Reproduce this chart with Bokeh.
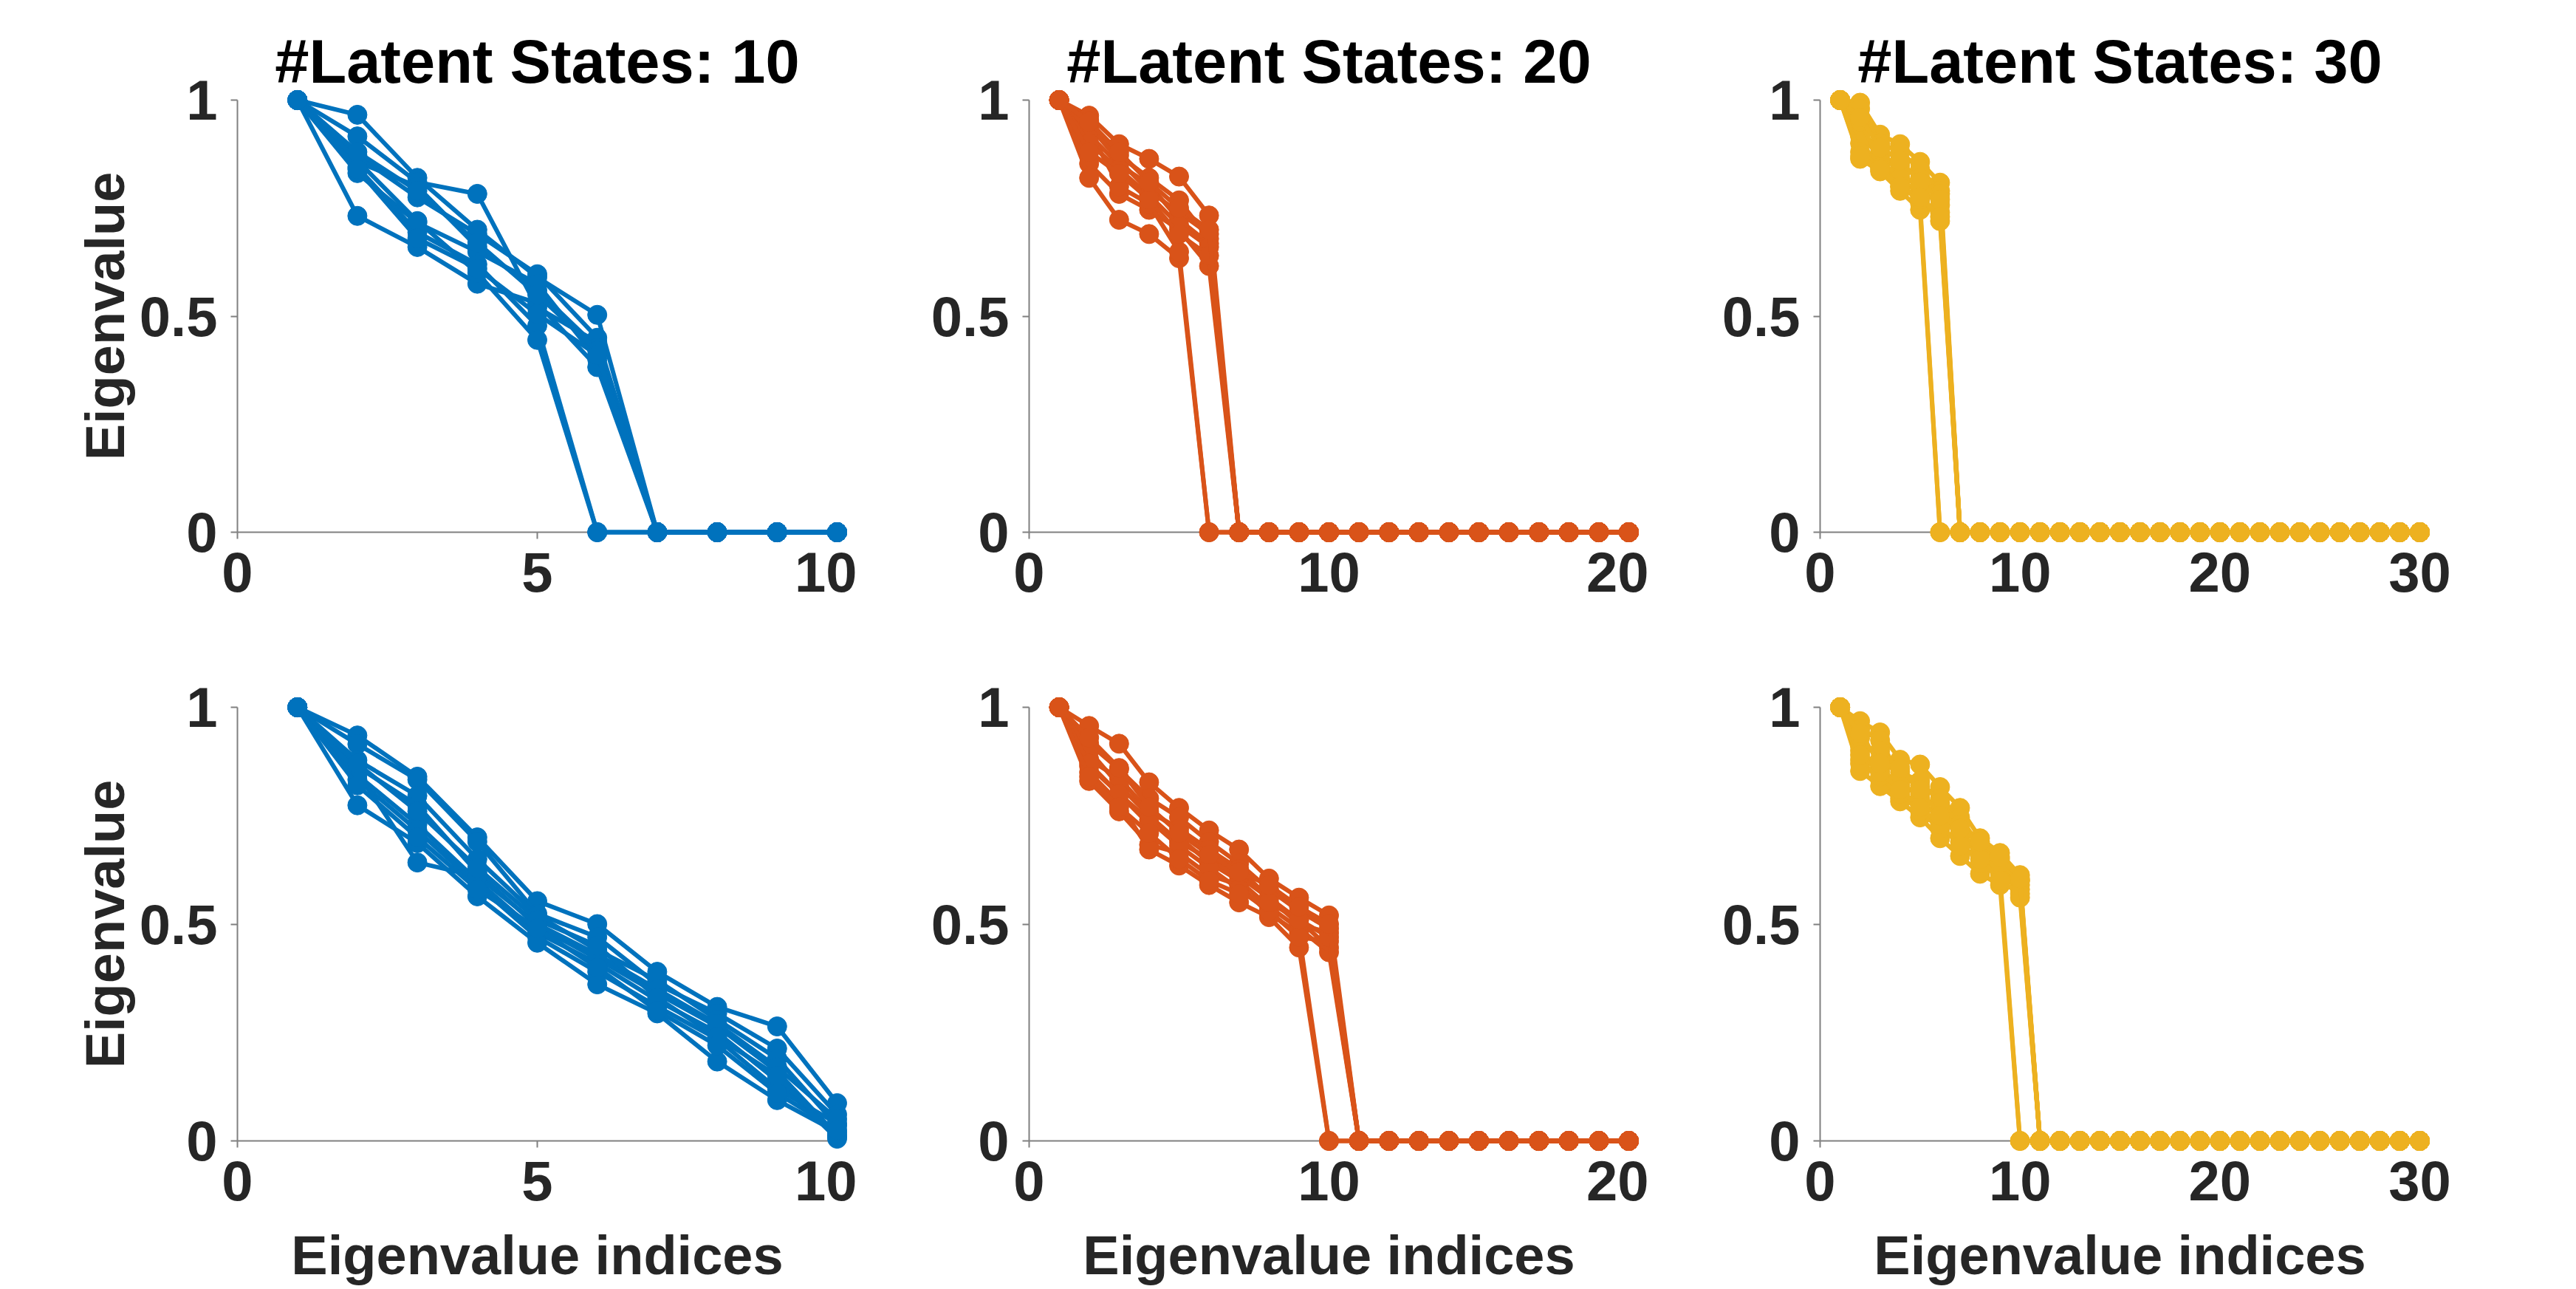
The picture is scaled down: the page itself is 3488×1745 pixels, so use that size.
from bokeh.plotting import figure
from bokeh.layouts import row, column
from bokeh.models import Range1d, FixedTicker
from bokeh.embed import file_html
from bokeh.resources import INLINE

# ---------------- data ----------------
titles = ["#Latent States: 10", "#Latent States: 20", "#Latent States: 30"]
n_states = [10, 20, 30]
x_ticks = [[0, 5, 10], [0, 10, 20], [0, 10, 20, 30]]
y_ticks = [0, 0.5, 1]
colors = ["#0072BD", "#D95319", "#EDB120"]

# leading (non-zero) eigenvalues per run; remaining eigenvalues are 0
top_10 = [
    [1, 0.966, 0.820, 0.700, 0.590, 0.503, 0],
    [1, 0.916, 0.810, 0.783, 0.520, 0.440, 0],
    [1, 0.872, 0.775, 0.690, 0.597, 0.450, 0],
    [1, 0.857, 0.800, 0.660, 0.560, 0.427, 0],
    [1, 0.831, 0.716, 0.649, 0.575, 0.400, 0],
    [1, 0.732, 0.660, 0.575, 0.530, 0.382, 0],
    [1, 0.845, 0.694, 0.620, 0.478, 0],
    [1, 0.860, 0.720, 0.600, 0.445, 0],
    [1, 0.880, 0.790, 0.670, 0.550, 0.420, 0],
    [1, 0.840, 0.680, 0.610, 0.505, 0.410, 0],
]
top_20 = [
    [1, 0.964, 0.898, 0.864, 0.823, 0.733, 0],
    [1, 0.953, 0.872, 0.820, 0.768, 0.679, 0],
    [1, 0.920, 0.850, 0.805, 0.723, 0.668, 0],
    [1, 0.940, 0.860, 0.790, 0.740, 0.690, 0],
    [1, 0.853, 0.783, 0.746, 0.700, 0.616, 0],
    [1, 0.820, 0.723, 0.690, 0.634, 0],
    [1, 0.930, 0.800, 0.760, 0.649, 0],
    [1, 0.900, 0.840, 0.780, 0.710, 0.660, 0],
    [1, 0.880, 0.830, 0.770, 0.690, 0.640, 0],
    [1, 0.950, 0.880, 0.810, 0.750, 0.700, 0],
]
top_30 = [
    [1, 0.994, 0.920, 0.898, 0.857, 0.809, 0],
    [1, 0.980, 0.900, 0.880, 0.840, 0.790, 0],
    [1, 0.916, 0.872, 0.850, 0.820, 0.783, 0],
    [1, 0.930, 0.880, 0.830, 0.797, 0.757, 0],
    [1, 0.864, 0.835, 0.790, 0.746, 0],
    [1, 0.900, 0.850, 0.810, 0.760, 0],
    [1, 0.950, 0.860, 0.820, 0.780, 0.720, 0],
    [1, 0.880, 0.845, 0.800, 0.770, 0.740, 0],
    [1, 0.960, 0.890, 0.860, 0.810, 0.770, 0],
    [1, 0.870, 0.840, 0.800, 0.775, 0.730, 0],
]
bottom_10 = [
    [1, 0.935, 0.840, 0.700, 0.553, 0.500, 0.390, 0.309, 0.264, 0.087],
    [1, 0.915, 0.833, 0.690, 0.524, 0.470, 0.361, 0.294, 0.213, 0.061],
    [1, 0.878, 0.796, 0.650, 0.520, 0.440, 0.370, 0.280, 0.190, 0.035],
    [1, 0.863, 0.774, 0.619, 0.495, 0.420, 0.340, 0.264, 0.160, 0.013],
    [1, 0.844, 0.730, 0.600, 0.480, 0.410, 0.324, 0.250, 0.139, 0.005],
    [1, 0.833, 0.716, 0.590, 0.470, 0.390, 0.310, 0.235, 0.120, 0.040],
    [1, 0.774, 0.687, 0.564, 0.457, 0.361, 0.294, 0.183, 0.094, 0.020],
    [1, 0.850, 0.642, 0.610, 0.500, 0.430, 0.350, 0.270, 0.170, 0.050],
    [1, 0.870, 0.760, 0.630, 0.510, 0.450, 0.330, 0.240, 0.150, 0.010],
    [1, 0.820, 0.700, 0.580, 0.490, 0.400, 0.300, 0.220, 0.110, 0.025],
]
bottom_20 = [
    [1, 0.957, 0.916, 0.827, 0.768, 0.716, 0.672, 0.605, 0.561, 0.520, 0],
    [1, 0.916, 0.857, 0.790, 0.746, 0.690, 0.640, 0.580, 0.530, 0.490, 0],
    [1, 0.880, 0.836, 0.760, 0.720, 0.672, 0.627, 0.561, 0.509, 0.446, 0],
    [1, 0.864, 0.800, 0.730, 0.700, 0.642, 0.600, 0.540, 0.490, 0.435, 0],
    [1, 0.830, 0.760, 0.683, 0.664, 0.613, 0.590, 0.524, 0.479, 0],
    [1, 0.850, 0.780, 0.672, 0.635, 0.590, 0.550, 0.516, 0.446, 0],
    [1, 0.900, 0.820, 0.750, 0.690, 0.650, 0.610, 0.560, 0.500, 0.480, 0],
    [1, 0.870, 0.800, 0.740, 0.680, 0.630, 0.580, 0.530, 0.470, 0.460, 0],
    [1, 0.840, 0.770, 0.710, 0.650, 0.600, 0.570, 0.550, 0.510, 0.470, 0],
    [1, 0.930, 0.860, 0.770, 0.710, 0.660, 0.620, 0.590, 0.540, 0.500, 0],
]
bottom_30 = [
    [1, 0.968, 0.942, 0.879, 0.868, 0.816, 0.768, 0.698, 0.664, 0.613, 0],
    [1, 0.950, 0.924, 0.840, 0.820, 0.790, 0.746, 0.680, 0.650, 0.600, 0],
    [1, 0.879, 0.833, 0.790, 0.780, 0.776, 0.720, 0.657, 0.630, 0.590, 0],
    [1, 0.853, 0.818, 0.783, 0.746, 0.698, 0.657, 0.616, 0.590, 0],
    [1, 0.900, 0.860, 0.820, 0.800, 0.760, 0.700, 0.660, 0.610, 0],
    [1, 0.930, 0.880, 0.850, 0.830, 0.780, 0.730, 0.680, 0.640, 0.561, 0],
    [1, 0.870, 0.840, 0.800, 0.760, 0.720, 0.690, 0.640, 0.620, 0.580, 0],
    [1, 0.910, 0.900, 0.830, 0.790, 0.740, 0.710, 0.670, 0.640, 0.600, 0],
    [1, 0.890, 0.850, 0.810, 0.770, 0.730, 0.680, 0.650, 0.600, 0.570, 0],
    [1, 0.940, 0.870, 0.860, 0.810, 0.750, 0.720, 0.690, 0.655, 0.605, 0],
]

top_runs = [top_10, top_20, top_30]
bottom_runs = [bottom_10, bottom_20, bottom_30]

# ---------------- layout (pixels) ----------------
FONT = "Liberation Sans"
TICK_COLOR = "#262626"
AXIS_COLOR = "#808080"
col_widths = [1160, 1072, 1256]
col_borders = [(321, 27), (233, 27), (232, 212)]
row_heights = [860, 885]
row_borders = [(135, 140), (97, 201)]


def make_panel(ci, ri, runs):
    n = n_states[ci]
    bl, br = col_borders[ci]
    bt, bb = row_borders[ri]
    p = figure(width=col_widths[ci], height=row_heights[ri],
               x_range=Range1d(0, n), y_range=Range1d(0, 1),
               output_backend="svg", toolbar_location=None,
               min_border_left=bl, min_border_right=br,
               min_border_top=bt, min_border_bottom=bb)
    p.grid.visible = False
    p.outline_line_color = None
    p.background_fill_color = "white"
    p.border_fill_color = "white"

    idx = list(range(1, n + 1))
    for run in runs:
        vals = list(run) + [0.0] * (n - len(run))
        p.line(idx, vals, line_width=6, color=colors[ci], level="overlay")
        p.scatter(idx, vals, size=26, color=colors[ci], level="overlay")

    for ax, ticks in ((p.xaxis[0], x_ticks[ci]), (p.yaxis[0], y_ticks)):
        ax.ticker = FixedTicker(ticks=ticks)
        ax.major_label_text_font = FONT
        ax.major_label_text_font_size = "76px"
        ax.major_label_text_font_style = "bold"
        ax.major_label_text_color = TICK_COLOR
        ax.major_tick_in = 0
        ax.major_tick_out = 9
        ax.major_tick_line_color = AXIS_COLOR
        ax.major_tick_line_width = 2
        ax.minor_tick_line_color = None
        ax.axis_line_color = AXIS_COLOR
        ax.axis_line_width = 2
        ax.major_label_standoff = 18
        ax.axis_label_text_font = FONT
        ax.axis_label_text_font_size = "74px"
        ax.axis_label_text_font_style = "bold"
        ax.axis_label_text_color = TICK_COLOR
        ax.axis_label_standoff = 2
    p.yaxis[0].major_label_overrides = {0: "0", 0.5: "0.5", 1: "1"}
    p.xaxis[0].axis_label_standoff = 30

    if ci == 0:
        p.yaxis[0].axis_label = "Eigenvalue"
    if ri == 1:
        p.xaxis[0].axis_label = "Eigenvalue indices"
    if ri == 0:
        p.title.text = titles[ci]
        p.title.align = "center"
        p.title.text_font = FONT
        p.title.text_font_size = "83px"
        p.title.text_font_style = "bold"
        p.title.text_color = "#000000"
        p.title.standoff = 12
    return p


top_row = row([make_panel(i, 0, top_runs[i]) for i in range(3)], spacing=0)
bottom_row = row([make_panel(i, 1, bottom_runs[i]) for i in range(3)], spacing=0)
layout = column([top_row, bottom_row], spacing=0)

open("out.html", "w").write(file_html(layout, INLINE))
